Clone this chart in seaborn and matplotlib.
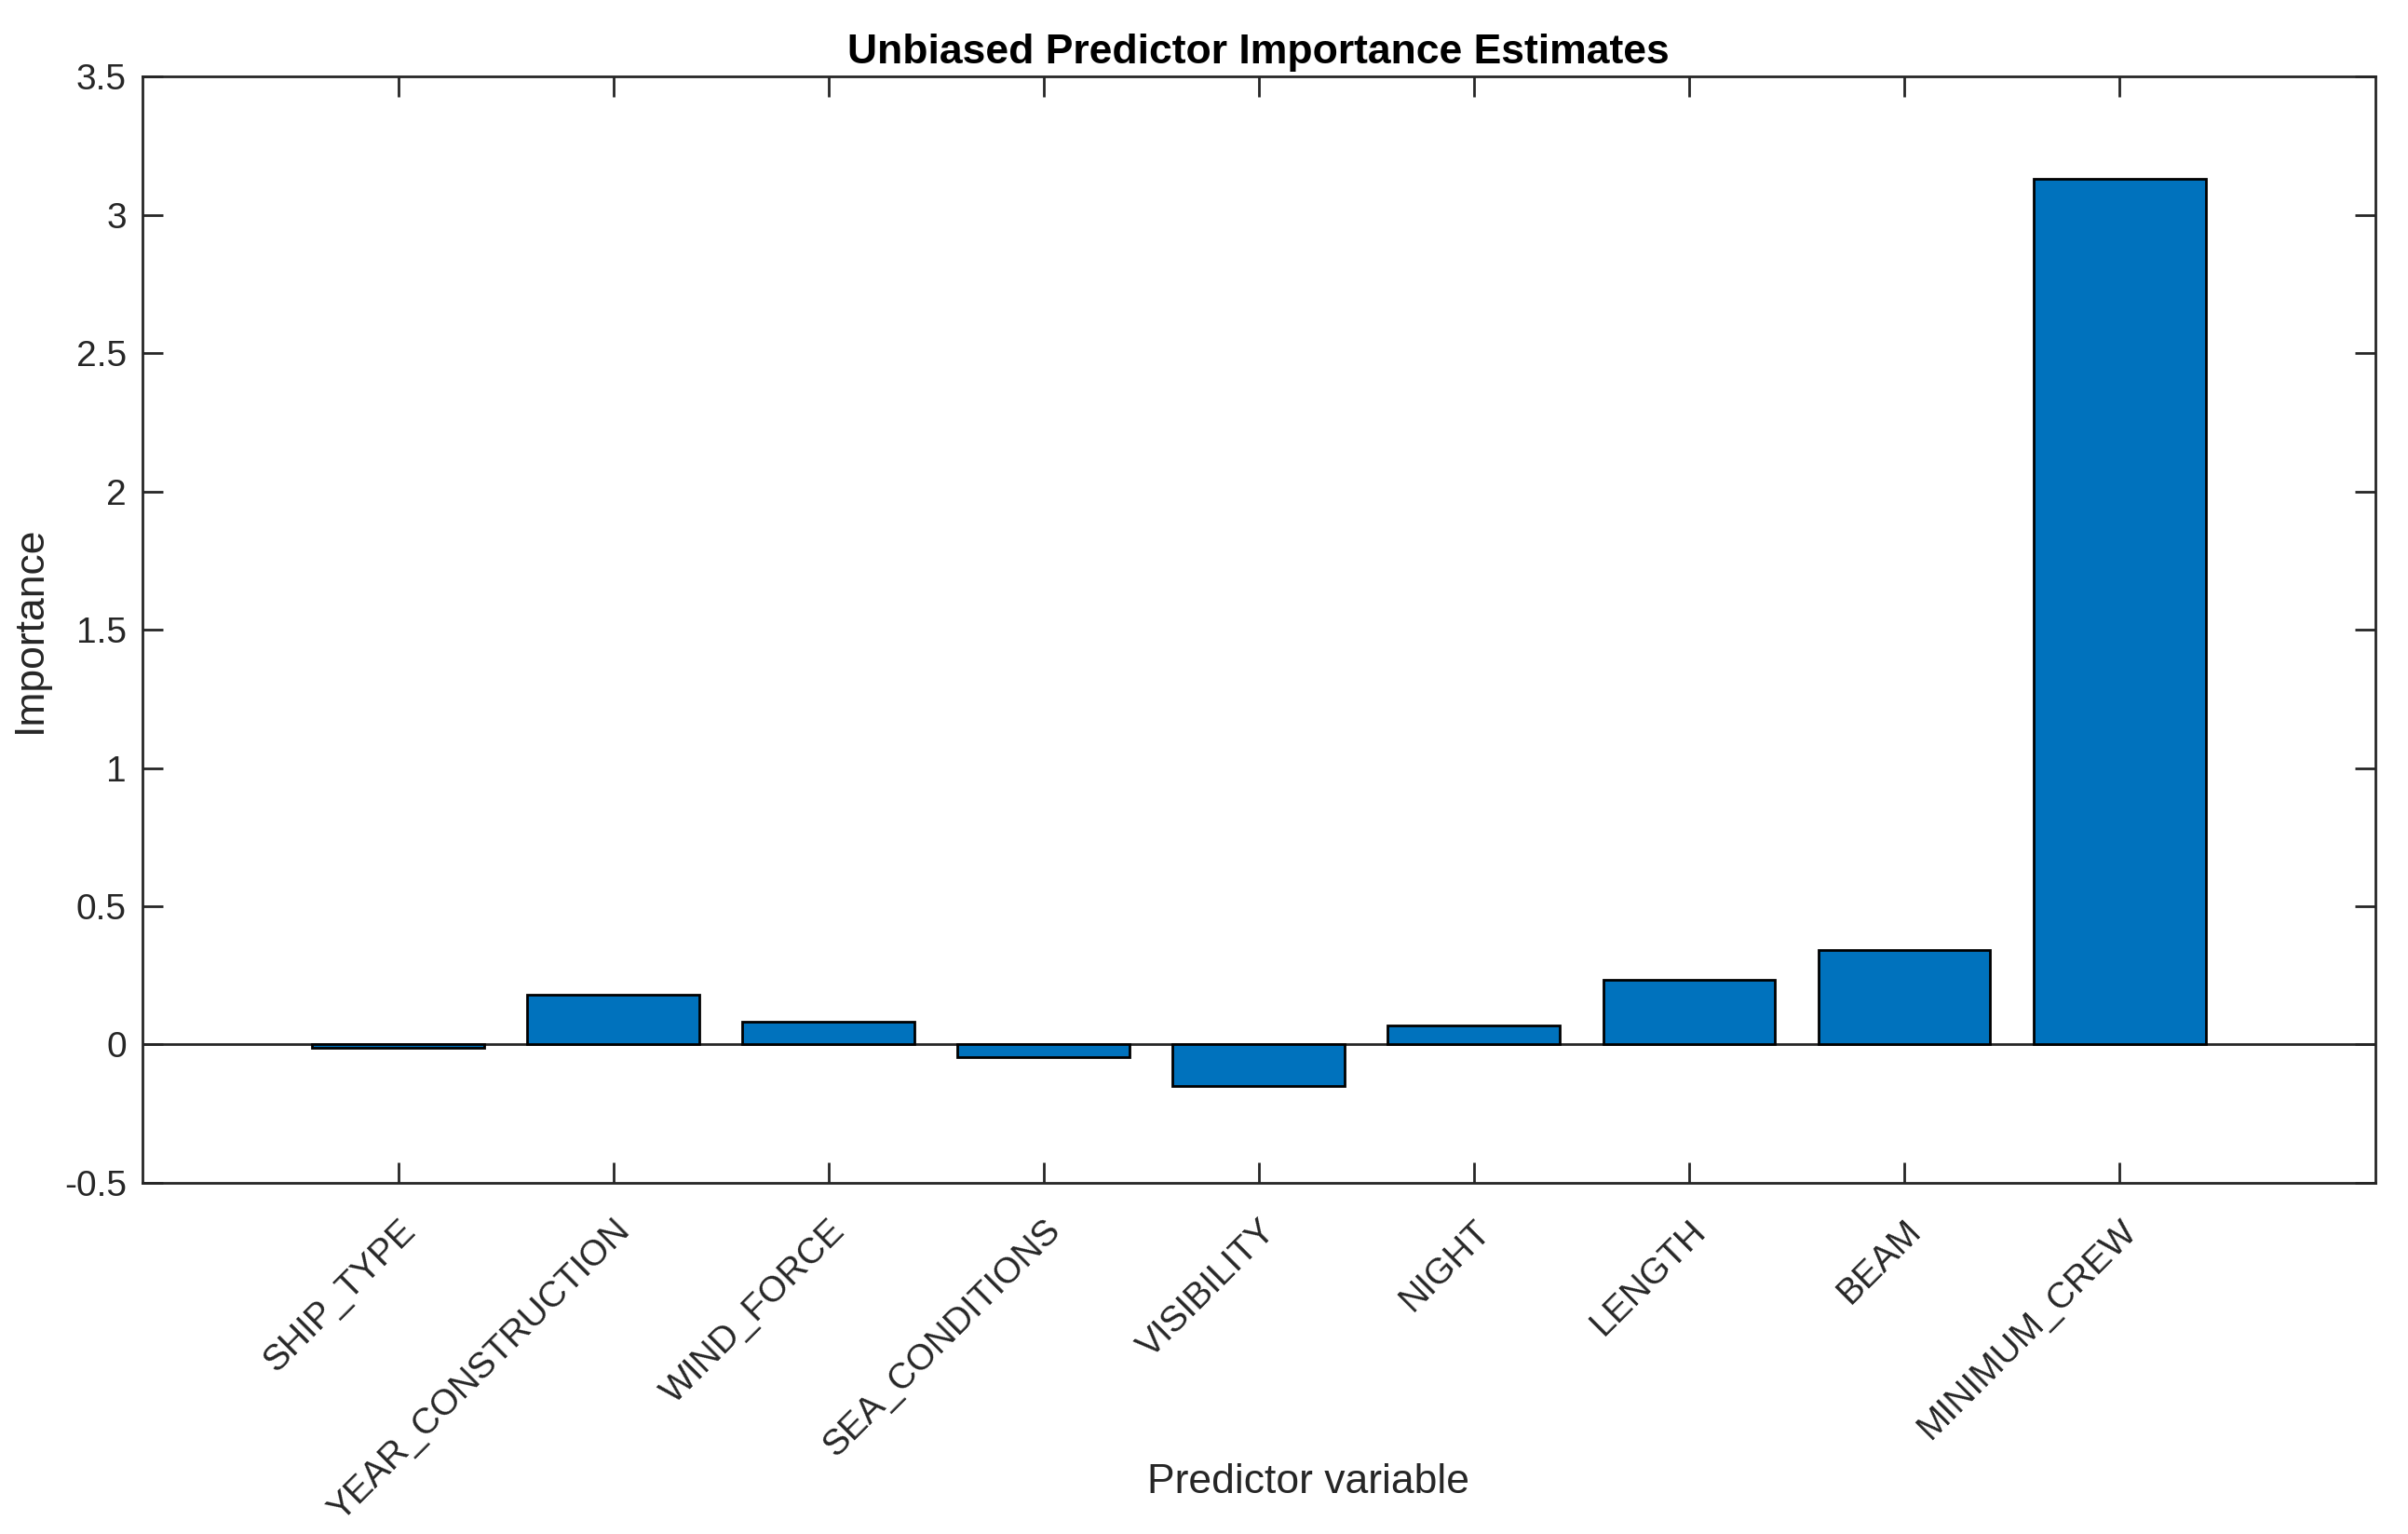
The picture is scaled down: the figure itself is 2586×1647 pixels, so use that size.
"""
Predictor importance bar chart (MATLAB style) redrawn with seaborn.
"""

import numpy as np
import pandas as pd
import matplotlib.pyplot as plt
import seaborn as sns

# Data
predictors = ['SHIP_TYPE', 'YEAR_CONSTRUCTION', 'WIND_FORCE', 'SEA_CONDITIONS',
              'VISIBILITY', 'NIGHT', 'LENGTH', 'BEAM', 'MINIMUM_CREW']
importance = [-0.013, 0.18, 0.082, -0.045, -0.15, 0.07, 0.233, 0.343, 3.13]
y_ticks = [-0.5, 0, 0.5, 1, 1.5, 2, 2.5, 3, 3.5]
y_tick_labels = ['-0.5', '0', '0.5', '1', '1.5', '2', '2.5', '3', '3.5']

BAR_COLOR = '#0072BD'
AXIS_COLOR = '#262626'


def main():
    sns.set_theme(style='white')
    plt.rcParams['font.family'] = ['Liberation Sans', 'DejaVu Sans']

    df = pd.DataFrame({'predictor': predictors, 'importance': importance})

    fig = plt.figure(figsize=(12.93, 8.235), dpi=200)
    ax = fig.add_axes([0.059, 0.229, 0.9275, 0.721])

    # zero baseline spanning the whole axes, like MATLAB's bar baseline
    ax.axhline(0, color=AXIS_COLOR, lw=1.0, zorder=1)

    sns.barplot(data=df, x='predictor', y='importance', color=BAR_COLOR,
                saturation=1, edgecolor='black', linewidth=1.0, width=0.8,
                ax=ax, zorder=2)

    ax.set_xlim(-1.19, len(predictors) - 1 + 1.19)
    ax.set_ylim(-0.5, 3.5)
    ax.set_yticks(y_ticks)
    ax.set_yticklabels(y_tick_labels)
    ax.set_xticks(np.arange(len(predictors)))
    ax.set_xticklabels(predictors, rotation=45, ha='right',
                       rotation_mode='anchor')

    # box with inward ticks on every side
    for side in ['left', 'right', 'top', 'bottom']:
        ax.spines[side].set_visible(True)
        ax.spines[side].set_color(AXIS_COLOR)
        ax.spines[side].set_linewidth(1.0)
    ax.tick_params(axis='both', direction='in', length=8, width=1.0,
                   color=AXIS_COLOR, labelcolor=AXIS_COLOR, labelsize=14,
                   top=True, right=True, bottom=True, left=True)
    ax.tick_params(axis='x', pad=12)
    ax.tick_params(axis='y', pad=6)

    ax.set_title('Unbiased Predictor Importance Estimates', fontsize=16,
                 fontweight='bold', color='black', pad=5)
    ax.set_xlabel('Predictor variable', fontsize=16, color=AXIS_COLOR,
                  va='center')
    ax.set_ylabel('Importance', fontsize=16, color=AXIS_COLOR, va='center')
    ax.xaxis.set_label_coords(0.522, -0.271)
    ax.yaxis.set_label_coords(-0.050, 0.5)
    ax.grid(False)

    fig.savefig('out.png', dpi=200, facecolor='white')


if __name__ == "__main__":
    main()
